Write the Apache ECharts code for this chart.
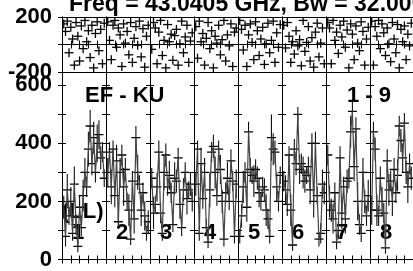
<!DOCTYPE html>
<html>
<head>
<meta charset="utf-8">
<script src="https://cdn.jsdelivr.net/npm/echarts@6/dist/echarts.min.js"></script>
<style>
html,body{margin:0;padding:0;background:#fff}
#chart{width:413px;height:271px}
</style>
</head>
<body>
<div id="chart"></div>
<script>
// scan numbers shown under each sub-panel
const scanLabels = ['1', '2', '3', '4', '5', '6', '7', '8']
const ampTicks = [0, 200, 400, 600]
const phaseTicks = [-200, 200]

// amplitude per scan
const amp = [
  [180, 80, 240, 150, 200, 90, 260, 120, 45, 180, 110, 220, 300, 250, 380, 460, 330, 420, 300, 400, 430, 350, 370, 280],
  [300, 370, 250, 380, 220, 340, 130, 300, 360, 250, 310, 200, 170, 70, 270, 140, 420, 300, 260, 170, 230, 150, 90, 130],
  [280, 160, 190, 250, 370, 160, 90, 300, 360, 250, 290, 230, 120, 280, 270, 350, 190, 110, 240, 300, 210, 240, 260, 200],
  [260, 380, 90, 330, 210, 300, 110, 60, 240, 370, 390, 300, 220, 380, 310, 200, 70, 230, 280, 200, 340, 270, 80, 260],
  [80, 150, 250, 300, 180, 440, 310, 290, 270, 310, 280, 230, 200, 250, 240, 170, 140, 80, 420, 380, 370, 250, 200, 290],
  [270, 240, 190, 360, 170, 50, 380, 330, 500, 310, 330, 300, 270, 290, 320, 240, 400, 200, 400, 220, 70, 90, 260, 230],
  [360, 200, 170, 140, 230, 60, 100, 350, 160, 250, 140, 270, 280, 440, 510, 320, 450, 200, 120, 90, 300, 200, 150, 220],
  [170, 440, 380, 170, 150, 280, 200, 160, 40, 340, 240, 270, 200, 310, 230, 290, 460, 410, 350, 470, 300, 250, 330, 280]
]
const ampErr = [
  [40, 35, 55, 30, 50, 25, 60, 35, 20, 40, 30, 55, 50, 35, 60, 55, 40, 55, 35, 65, 50, 40, 35, 30],
  [50, 35, 60, 30, 40, 55, 25, 50, 35, 65, 40, 30, 55, 20, 35, 50, 40, 60, 30, 55, 35, 50, 25, 40],
  [35, 55, 30, 50, 40, 35, 25, 60, 40, 30, 50, 35, 25, 55, 40, 35, 50, 30, 40, 35, 55, 30, 40, 35],
  [40, 30, 25, 55, 35, 50, 30, 20, 60, 35, 40, 55, 35, 30, 50, 40, 25, 35, 55, 30, 40, 35, 25, 50],
  [25, 40, 55, 35, 50, 35, 40, 30, 55, 35, 40, 50, 30, 35, 40, 55, 35, 25, 80, 55, 40, 50, 35, 30],
  [35, 50, 40, 30, 55, 20, 35, 40, 25, 50, 35, 55, 40, 30, 35, 50, 35, 55, 40, 30, 25, 35, 50, 40],
  [35, 55, 40, 50, 35, 25, 30, 40, 55, 35, 50, 40, 35, 55, 35, 50, 40, 65, 35, 30, 50, 40, 35, 55],
  [50, 35, 40, 55, 35, 40, 50, 35, 20, 40, 55, 35, 50, 40, 35, 55, 35, 40, 50, 35, 40, 55, 35, 40]
]
// phase per scan (upper panel, degrees)
const phase = [
  [150, 95, 170, -60, 125, 40, -150, 160, 60, -120, 135, -30, 175, 20, 100, -95, 140, -170, 80, 165, -45, 110, -140, 155],
  [165, 30, -110, 140, 175, -20, 120, 70, -160, 150, 10, 95, -75, 160, -130, 45, 130, -5, 170, -90, 115, -165, 60, 140],
  [-35, 160, 120, -140, 90, 175, -80, 30, -170, 145, 20, 75, -115, 65, 110, -150, 5, 170, -60, 55, 140, -130, 25, 85],
  [130, -100, 170, 20, 80, -150, 45, 160, -30, 100, -170, 60, 10, 140, -75, 35, 175, -120, 70, -10, 150, -160, 90, 120],
  [175, 110, -40, 140, -160, 70, 150, 15, -110, 165, 100, -80, 40, 125, -145, 5, 155, -60, 30, 170, -130, 85, -20, 145],
  [140, -25, 160, 60, -130, 20, -70, 100, -10, 35, -155, 175, -50, 15, 130, -120, 50, -165, 90, 155, -90, 10, 120, -140],
  [160, 120, -140, 175, 30, 90, -65, 140, 55, 170, -20, 105, -170, 150, 75, -110, 135, 10, -45, 165, 95, -150, 40, 125],
  [170, -150, 130, 60, 175, -30, 150, 85, -80, 120, 5, -125, 160, 40, -60, 145, -170, 110, 20, 135, -110, 75, -10, 155]
]

const FONT = 'Liberation Sans, Arial, sans-serif'
const segLeft = 62
const segW = 44
const phaseTop = 17, phaseH = 55
const ampTop = 72, ampH = 187.5

const chartDom = document.getElementById('chart')
const myChart = echarts.init(chartDom, null, { renderer: 'canvas' })

const grid = [], xAxis = [], yAxis = [], series = []

const blackLine = { show: true, lineStyle: { color: '#000', width: 1 } }

// cross marker, optionally with a vertical error bar
const renderCross = (params, api) => {
  const x = api.value(0), y = api.value(1), e = api.value(2)
  const p = api.coord([x, y])
  const st = { stroke: '#000', lineWidth: 1.3 }
  const kids = [{ type: 'line', shape: { x1: p[0] - 4.5, y1: p[1], x2: p[0] + 4.5, y2: p[1] }, style: st }]
  if (e > 0) {
    const lo = api.coord([x, y - e]), hi = api.coord([x, y + e])
    kids.push({ type: 'line', shape: { x1: p[0], y1: lo[1], x2: p[0], y2: hi[1] }, style: { stroke: '#111', lineWidth: 1.1 } })
  } else {
    kids.push({ type: 'line', shape: { x1: p[0], y1: p[1] - 4.5, x2: p[0], y2: p[1] + 4.5 }, style: st })
  }
  return { type: 'group', children: kids }
}

const addPanel = (s, top, height, ymin, ymax, yint, labels, first) => {
  const g = grid.length
  grid.push({ left: segLeft + segW * s, width: segW, top: top, height: height })
  const xBase = { gridIndex: g, type: 'value', min: 0, max: 25, interval: 5,
    axisLine: blackLine, axisTick: { inside: true, length: 4, lineStyle: { color: '#000' } },
    axisLabel: { show: false }, splitLine: { show: false } }
  xAxis.push(Object.assign({ position: 'bottom' }, xBase))
  xAxis.push(Object.assign({ position: 'top' }, xBase))
  const yBase = { gridIndex: g, type: 'value', min: ymin, max: ymax, interval: yint,
    axisLine: blackLine, axisTick: { inside: true, length: 4, lineStyle: { color: '#000' } },
    splitLine: { show: false } }
  yAxis.push(Object.assign({ position: 'left',
    axisLabel: { show: first, margin: 10, color: '#000', fontFamily: FONT, fontWeight: 'bold', fontSize: 22,
      formatter: v => labels.includes(v) ? String(v) : '' } }, yBase))
  yAxis.push(Object.assign({ position: 'right', axisLabel: { show: false } }, yBase))
  return { xi: xAxis.length - 2, yi: yAxis.length - 2 }
}

scanLabels.forEach((lab, s) => {
  // phase panel
  const ph = addPanel(s, phaseTop, phaseH, -200, 200, 200, phaseTicks, s === 0)
  yAxis[ph.yi].splitLine = { show: true, lineStyle: { color: '#000', width: 1 } }
  series.push({
    type: 'custom', xAxisIndex: ph.xi, yAxisIndex: ph.yi, clip: true,
    renderItem: renderCross,
    data: phase[s].map((v, i) => [i + 1, v, 0])
  })
  // amplitude panel
  const am = addPanel(s, ampTop, ampH, 0, 646, 100, ampTicks, s === 0)
  series.push({
    type: 'line', xAxisIndex: am.xi, yAxisIndex: am.yi, showSymbol: false,
    lineStyle: { color: '#444', width: 1.2 }, animation: false,
    data: amp[s].map((v, i) => [i + 1, v])
  })
  series.push({
    type: 'custom', xAxisIndex: am.xi, yAxisIndex: am.yi, clip: true,
    renderItem: renderCross,
    data: amp[s].map((v, i) => [i + 1, v, ampErr[s][i]])
  })
})

const bold = { fontFamily: FONT, fontWeight: 'bold', fontSize: 22, fill: '#000' }
const graphic = [
  { type: 'text', left: 85, top: 85, style: Object.assign({ text: 'EF - KU' }, bold) },
  { type: 'text', left: 347, top: 85, style: Object.assign({ text: '1 - 9' }, bold) },
  { type: 'text', left: 62, top: 201, style: Object.assign({ text: '(LL)' }, bold) }
]
scanLabels.forEach((lab, s) => {
  graphic.push({ type: 'text', left: segLeft + segW * s + 10, top: 222, style: Object.assign({ text: lab }, bold) })
})

const option = {
  animation: false,
  title: {
    text: 'Freq = 43.0405 GHz, Bw = 32.000 MHz',
    left: 64, top: -12,
    textStyle: { fontFamily: FONT, fontWeight: 'bold', fontSize: 23, color: '#000' }
  },
  grid: grid,
  xAxis: xAxis,
  yAxis: yAxis,
  series: series,
  graphic: graphic
}
myChart.setOption(option)
</script>
</body>
</html>
